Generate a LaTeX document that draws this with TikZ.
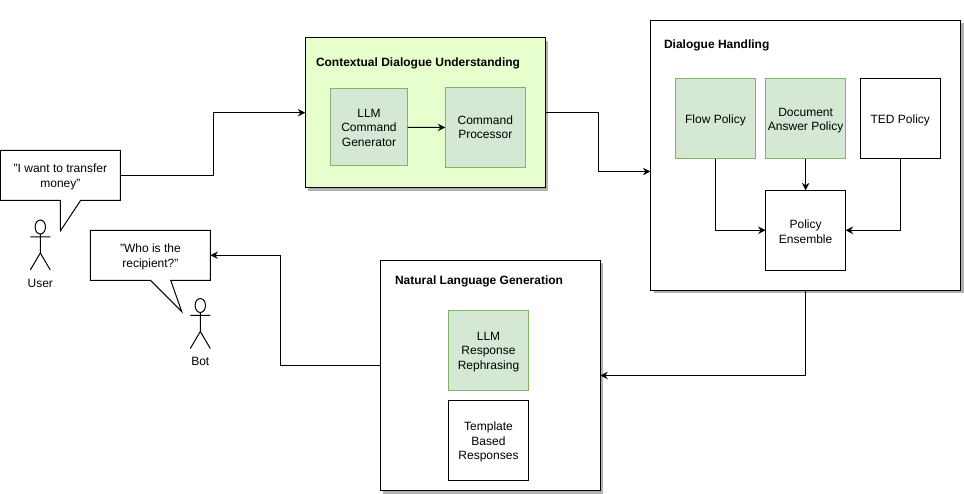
\documentclass[tikz,border=0pt]{standalone}
\usepackage{fontspec}
\setmainfont{Liberation Sans}
\usetikzlibrary{arrows.meta,shadows}
\definecolor{lightlime}{HTML}{E6FFCC}
\definecolor{paleGreen}{HTML}{D5E8D4}
\definecolor{edgeGreen}{HTML}{82B366}
\newcommand{\lowertext}{\rule{0pt}{11.5pt}}
\begin{document}
\begin{tikzpicture}[x=1pt,y=-1pt,line width=1pt,>={Stealth[length=7.5pt,width=7.5pt,inset=2.5pt]},
every node/.style={font=\fontsize{12}{14.5}\selectfont,align=center,inner sep=0pt,outer sep=0pt},
main node/.style={draw,fill=white,minimum size=80pt},
green node/.style={main node,draw=edgeGreen,fill=paleGreen},
stage node/.style={draw,fill=white,drop shadow={shadow xshift=3pt,shadow yshift=-3pt,fill=black!30,opacity=1}},
title node/.style={anchor=west,font=\fontsize{12}{14.5}\selectfont\bfseries},
actor figure/.pic={
\draw (0,7) ellipse [x radius=5.2pt,y radius=7pt];
\draw (0,14) -- (0,33) (-10,17) -- (10,17) (-10,50) -- (0,33) -- (10,50);
}]
\useasboundingbox (0,0) rectangle (964,494);
\begin{scope}
\node[stage node,fill=lightlime,minimum width=240pt,minimum height=150pt] (understanding) at (425.3,112.7) {};
\node[stage node,minimum width=310pt,minimum height=270pt] (handling) at (805.5,155.3) {};
\node[stage node,minimum width=220pt,minimum height=230pt] (generation) at (490.3,375.5) {};
\node[title node] (understandingtitle) at (316,62) {\lowertext Contextual Dialogue Understanding};
\node[title node] (handlingtitle) at (664,44) {\lowertext Dialogue Handling};
\node[title node] (generationtitle) at (395,280) {\lowertext Natural Language Generation};
\node[green node,minimum size=77pt] (generator) at (369,127.5) {LLM\\Command\\Generator};
\node[green node] (processor) at (485.3,127.4) {Command\\Processor};
\node[green node] (flow) at (715.5,119) {\lowertext Flow Policy};
\node[green node] (document) at (805.6,119) {\lowertext Document\\Answer Policy};
\node[main node] (ted) at (900.3,119) {\lowertext TED Policy};
\node[main node] (ensemble) at (805.6,230.3) {\lowertext Policy\\Ensemble};
\node[green node] (rephrasing) at (488.5,350.3) {\lowertext LLM\\Response\\Rephrasing};
\node[main node] (template) at (488.5,440.5) {\lowertext Template\\Based\\Responses};
\node[minimum width=120pt,minimum height=50pt] (usersay) at (60.4,175.3) {\lowertext "I want to transfer\\money"};
\node[minimum width=120pt,minimum height=50pt] (botsay) at (150.4,255.3) {\lowertext "Who is the\\recipient?"};
\node (userlabel) at (40.3,283.5) {User};
\node (botlabel) at (200.3,361.5) {Bot};
\coordinate (handlingin) at (650.4,171.5);
\coordinate (generationout) at (380.3,365.5);
\end{scope}
\begin{scope}
\draw (usersay.north west) -- (usersay.north east) -- (usersay.south east) -- (80.7,200.3) -- (60.5,230.7) -- (60.4,200.3) -- (usersay.south west) -- cycle;
\draw (botsay.north west) -- (botsay.north east) -- (botsay.south east) -- (170.7,280.3) -- (181.7,311.5) -- (150.5,280.3) -- (botsay.south west) -- cycle;
\pic at (40.3,220) {actor figure};
\pic at (200.3,298.5) {actor figure};
\end{scope}
\begin{scope}
\draw[->] (usersay.east) -- (213,175.3) |- (understanding.west);
\draw[->] (generator) -- (processor);
\draw[->] (understanding.east) -- (598,112.7) |- (handlingin);
\draw[->] (flow) |- (ensemble);
\draw[->] (document) -- (ensemble);
\draw[->] (ted) |- (ensemble);
\draw[->] (handling.south) |- (generation.east);
\draw[->] (generationout) -- (280,365.5) |- (botsay.east);
\end{scope}
\end{tikzpicture}
\end{document}
